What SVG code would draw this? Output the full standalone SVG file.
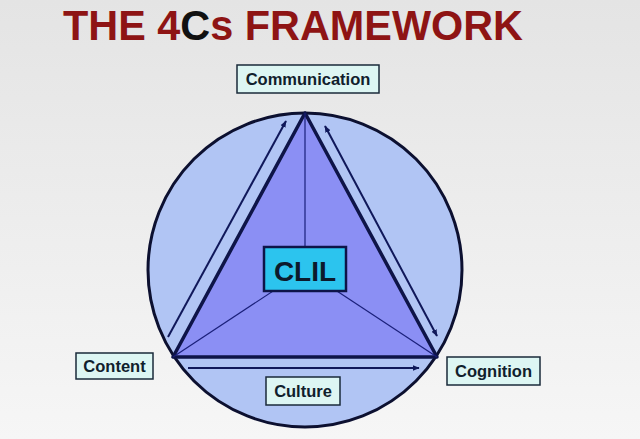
<svg xmlns="http://www.w3.org/2000/svg" width="640" height="439" viewBox="0 0 640 439">
<defs>
<linearGradient id="bg" x1="0" y1="0" x2="0" y2="1">
<stop offset="0" stop-color="#e4e4e4"/>
<stop offset="1" stop-color="#f6f6f6"/>
</linearGradient>
<marker id="ah" viewBox="0 0 10 10" refX="9" refY="5" markerWidth="7" markerHeight="7" orient="auto-start-reverse" markerUnits="userSpaceOnUse">
<path d="M0,1 L10,5 L0,9 z" fill="#10185a"/>
</marker>
<style>
.lbl{fill:#ddf6f3;stroke:#1a2a3a;stroke-width:1.5}
.lt{font-family:"Liberation Sans",Arial,sans-serif;font-weight:bold;font-size:16.5px;fill:#10202c;text-anchor:middle}
.arr{stroke:#10185a;stroke-width:2;fill:none}
.spoke{stroke:#1a1f7a;stroke-width:1.2}
</style>
</defs>
<rect width="640" height="439" fill="url(#bg)"/>
<text x="63" y="40" font-family="'Liberation Sans',Arial,sans-serif" font-weight="bold" font-size="42" fill="#8e1414" textLength="460" lengthAdjust="spacingAndGlyphs">THE 4<tspan fill="#111111">C</tspan>s FRAMEWORK</text>
<g id="circle">
<circle cx="305" cy="270" r="157" fill="#b1c5f4" stroke="#0c1030" stroke-width="3"/>
</g>
<g id="triangle">
<polygon points="305,113 173,357 437,357" fill="#8b8ff4" stroke="#0e1448" stroke-width="3.5" stroke-linejoin="round"/>
</g>
<g id="connectors">
<line class="spoke" x1="305" y1="113" x2="305" y2="270"/>
<line class="spoke" x1="305" y1="270" x2="173" y2="357"/>
<line class="spoke" x1="305" y1="270" x2="437" y2="357"/>
<line class="arr" x1="168" y1="337" x2="286" y2="121" marker-end="url(#ah)"/>
<line class="arr" x1="325" y1="126" x2="437" y2="336" marker-start="url(#ah)" marker-end="url(#ah)"/>
<line class="arr" x1="188" y1="368" x2="419" y2="368" marker-end="url(#ah)"/>
</g>
<g id="clil">
<rect x="264" y="247" width="82" height="44" fill="#2cc4ee" stroke="#0e1448" stroke-width="2.5"/>
<text x="305" y="281" font-family="'Liberation Sans',Arial,sans-serif" font-weight="bold" font-size="28" fill="#0c1a2c" text-anchor="middle">CLIL</text>
</g>
<g id="communication">
<rect class="lbl" x="237" y="65" width="142" height="28"/>
<text class="lt" x="308" y="85">Communication</text>
</g>
<g id="content">
<rect class="lbl" x="76" y="353" width="77" height="26"/>
<text class="lt" x="114.5" y="372">Content</text>
</g>
<g id="cognition">
<rect class="lbl" x="447" y="357" width="93" height="28"/>
<text class="lt" x="493.5" y="377">Cognition</text>
</g>
<g id="culture">
<rect class="lbl" x="266" y="377" width="74" height="28"/>
<text class="lt" x="303" y="397">Culture</text>
</g>
</svg>
